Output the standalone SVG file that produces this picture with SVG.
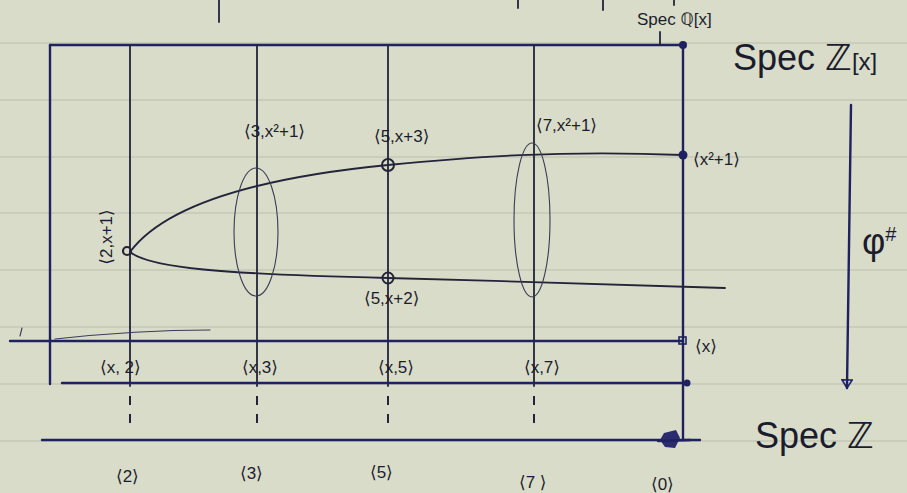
<svg xmlns="http://www.w3.org/2000/svg" width="907" height="493" viewBox="0 0 907 493">
<defs>
<style>
.paper{fill:#d9dcc8}
.rule{stroke:#b9bdab;stroke-width:1.2;fill:none}
.ink{stroke:#1f2160;stroke-width:2.4;fill:none;stroke-linecap:round}
.thin{stroke:#23243a;stroke-width:1.8;fill:none;stroke-linecap:round}
.faint{stroke:#3a3b55;stroke-width:1.1;fill:none;stroke-linecap:round}
.dash{stroke:#23243a;stroke-width:2;fill:none;stroke-dasharray:9 9}
.t{font-family:"Liberation Sans","DejaVu Sans",sans-serif;fill:#1b1c2e;font-size:17px}
.big{font-family:"Liberation Sans","DejaVu Sans",sans-serif;fill:#1b1c2e;font-size:36px}
.dot{fill:#1f2160}
</style>
<marker id="ah" viewBox="0 0 12 12" refX="10" refY="6" markerWidth="12" markerHeight="12" markerUnits="userSpaceOnUse" orient="auto">
<path d="M2,1 L2,11 L10,6 Z" fill="none" stroke="#1f2160" stroke-width="1.6"/>
</marker>
</defs>
<rect class="paper" x="0" y="0" width="907" height="493"/>
<g id="ruling">
<path class="rule" d="M0,43H907M0,100H907M0,157H907M0,213H907M0,270H907M0,327H907M0,384H907M0,441H907"/>
</g>
<g id="top-marks">
<path class="thin" d="M219,0V22M518,0V8M603,0V10M674,0V5"/>
</g>
<g id="connectors">
<path class="ink" d="M50,45H683"/>
<path class="ink" d="M50,45V384"/>
<path class="ink" d="M683,45V440" stroke-width="3"/>
<path class="thin" d="M130,45V386M257,45V386M388,45V386M534,45V386"/>
<path class="ink" d="M10,341H683"/>
<path class="ink" d="M62,383H687"/>
<path class="faint" d="M55,339 C110,333 160,330 210,330"/>
<path class="faint" d="M20,336 L22,328"/>
<path class="dash" d="M130,396V432M257,396V432M388,396V432M534,396V432"/>
<path class="ink" d="M42,440H700"/>
<path class="thin" d="M130,252 C165,205 255,178 388,165 C470,157 560,150 683,155"/>
<path class="thin" d="M130,252 C150,268 220,274 388,278 C500,281 600,284 725,288"/>
<ellipse class="faint" cx="256" cy="232" rx="22" ry="64"/>
<ellipse class="faint" cx="532" cy="220" rx="18" ry="77"/>
<path class="ink" d="M851,105 L847,388" marker-end="url(#ah)"/>
<path class="thin" d="M660,32 V45" stroke-width="1.2"/>
</g>
<g id="points">
<circle cx="683" cy="45" r="4" class="dot"/>
<circle cx="683" cy="155" r="4.5" class="dot"/>
<rect x="679" y="337" width="7" height="7" fill="none" stroke="#1f2160" stroke-width="1.6"/>
<circle cx="687" cy="383" r="3.5" class="dot"/>
<circle cx="388" cy="165" r="6" fill="none" stroke="#23243a" stroke-width="2"/>
<circle cx="388" cy="278" r="5.5" fill="none" stroke="#23243a" stroke-width="2"/>
<circle cx="127" cy="251" r="4" fill="none" stroke="#23243a" stroke-width="2.2"/>
<path d="M664,433 L676,430 L680,438 L675,448 L665,447 L660,440 Z" fill="#2a2c6e"/>
<path class="ink" d="M658,441 L690,440"/>
</g>
<g id="labels">
<text class="t" x="244" y="137">⟨3,x²+1⟩</text>
<text class="t" x="374" y="142">⟨5,x+3⟩</text>
<text class="t" x="536" y="131">⟨7,x²+1⟩</text>
<text class="t" x="693" y="165">⟨x²+1⟩</text>
<text class="t" x="364" y="304">⟨5,x+2⟩</text>
<text class="t" transform="translate(112,237) rotate(-90)" text-anchor="middle">⟨2,x+1⟩</text>
<text class="t" x="100" y="373" font-size="15">⟨x, 2⟩</text>
<text class="t" x="242" y="373" font-size="15">⟨x,3⟩</text>
<text class="t" x="378" y="373" font-size="15">⟨x,5⟩</text>
<text class="t" x="524" y="373" font-size="15">⟨x,7⟩</text>
<text class="t" x="695" y="352">⟨x⟩</text>
<text class="t" x="637" y="25" font-size="14">Spec ℚ[x]</text>
<text class="big" x="733" y="70">Spec ℤ<tspan font-size="24">[x]</tspan></text>
<text class="big" x="755" y="448">Spec ℤ</text>
<text class="big" x="862" y="254" font-size="30">φ<tspan font-size="20" dy="-13">#</tspan></text>
<text class="t" x="116" y="482" font-size="20">⟨2⟩</text>
<text class="t" x="240" y="479" font-size="20">⟨3⟩</text>
<text class="t" x="370" y="478" font-size="20">⟨5⟩</text>
<text class="t" x="519" y="488" font-size="20">⟨7 ⟩</text>
<text class="t" x="651" y="490" font-size="20">⟨0⟩</text>
</g>
</svg>
